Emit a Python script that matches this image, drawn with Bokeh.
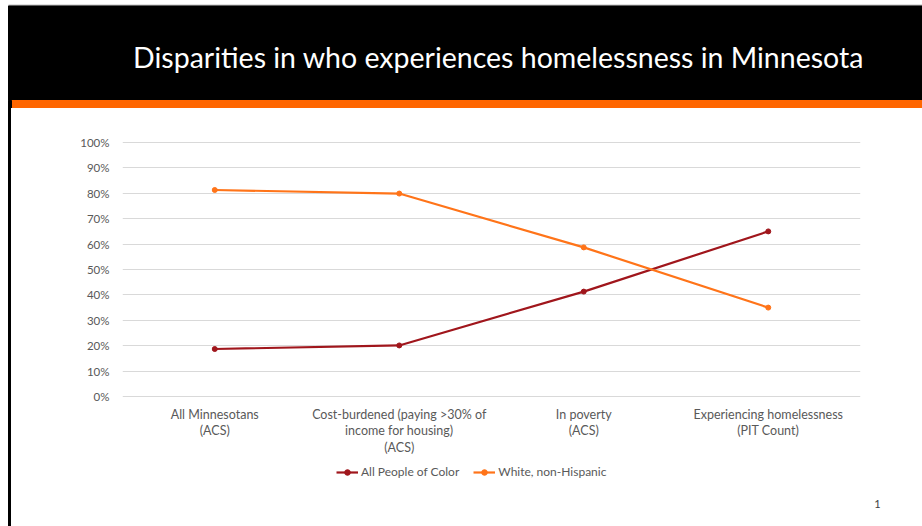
from bokeh.plotting import figure
from bokeh.layouts import column
from bokeh.models import (FactorRange, Range1d, NumeralTickFormatter, FixedTicker,
                          Legend, LegendItem, ColumnDataSource)
from bokeh.core.properties import value
from bokeh.embed import file_html
from bokeh.resources import INLINE

# ---- data ----
title_text = "Disparities in who experiences homelessness in Minnesota"
categories = [
    "All Minnesotans\n(ACS)",
    "Cost-burdened (paying >30% of\nincome for housing)\n(ACS)",
    "In poverty\n(ACS)",
    "Experiencing homelessness\n(PIT Count)",
]
people_of_color = [0.187, 0.201, 0.413, 0.650]
white_non_hispanic = [0.813, 0.799, 0.587, 0.350]
series_names = ["All People of Color", "White, non-Hispanic"]
y_ticks = [0.0, 0.1, 0.2, 0.3, 0.4, 0.5, 0.6, 0.7, 0.8, 0.9, 1.0]
page_number = "1"

FONT = "Lato"
TXT = "#595959"
RED = "#A0161C"
ORANGE = "#FF7419"

W = 922
HH = 108       # header height
PH = 355       # chart figure height
FH = 526 - HH - PH  # footer height
LEFT = 11      # white margin + black border


def bare(fig, color="white"):
    fig.axis.visible = False
    fig.grid.visible = False
    fig.outline_line_color = None
    fig.background_fill_color = color
    fig.border_fill_color = color
    return fig


# ---- header (slide decoration) ----
hdr = bare(figure(width=W, height=HH, x_range=Range1d(0, W), y_range=Range1d(HH, 0),
                  output_backend="svg", toolbar_location=None, min_border=0))
hdr.quad(left=[8], right=[W], top=[4.5], bottom=[5.5], color="#bfbfbf")
hdr.quad(left=[8], right=[W], top=[5.5], bottom=[100], color="black")
hdr.quad(left=[11], right=[W], top=[100], bottom=[HH], color="#FF6600")
hdr.quad(left=[8], right=[11], top=[100], bottom=[HH], color="black")
hdr.text(x=[498], y=[56], text=[title_text], text_color="white",
         text_font=value(FONT), text_font_size="28.5px",
         text_align="center", text_baseline="middle")

# ---- chart ----
p = figure(width=W - LEFT, height=PH, x_range=FactorRange(*categories),
           y_range=Range1d(-0.0118, 1.0118),
           output_backend="svg", toolbar_location=None,
           min_border_left=122 - LEFT, min_border_right=W - 122 - 738,
           min_border_top=31, min_border_bottom=PH - 31 - 260)
p.outline_line_color = None
p.background_fill_color = "white"
p.border_fill_color = "white"
p.xgrid.visible = False
p.ygrid.grid_line_color = "#d9d9d9"
p.ygrid.grid_line_width = 1

p.yaxis.ticker = FixedTicker(ticks=y_ticks)
p.yaxis.formatter = NumeralTickFormatter(format="0%")
for ax in (p.xaxis, p.yaxis):
    ax.axis_line_color = None
    ax.major_tick_line_color = None
    ax.minor_tick_line_color = None
    ax.major_label_text_color = TXT
    ax.major_label_text_font = FONT
p.yaxis.major_label_text_font_size = "11.5px"
p.xaxis.major_label_text_font_size = "12.5px"
p.yaxis.major_label_standoff = 7
p.xaxis.major_label_standoff = 1
p.xaxis.major_label_text_line_height = 1.1

src = ColumnDataSource(dict(x=categories, poc=people_of_color, wnh=white_non_hispanic))
p.line("x", "poc", source=src, line_color=RED, line_width=2.2)
p.scatter("x", "poc", source=src, size=5, color=RED)
p.line("x", "wnh", source=src, line_color=ORANGE, line_width=2.2)
p.scatter("x", "wnh", source=src, size=5, color=ORANGE)

# ---- footer: legend + page number ----
ft = bare(figure(width=W - LEFT, height=FH, x_range=Range1d(LEFT, W),
                 y_range=Range1d(526, 526 - FH),
                 output_backend="svg", toolbar_location=None, min_border=0))
nan = float("nan")
key_src = ColumnDataSource(dict(x=[nan], y=[nan]))  # legend keys only, nothing plotted
fl1 = ft.line("x", "y", source=key_src, line_color=RED, line_width=2.2)
fs1 = ft.scatter("x", "y", source=key_src, size=5, color=RED)
fl2 = ft.line("x", "y", source=key_src, line_color=ORANGE, line_width=2.2)
fs2 = ft.scatter("x", "y", source=key_src, size=5, color=ORANGE)
legend = Legend(items=[LegendItem(label=series_names[0], renderers=[fl1, fs1]),
                       LegendItem(label=series_names[1], renderers=[fl2, fs2])],
                orientation="horizontal", location=(336 - LEFT, 526 - 479),
                margin=0, padding=0, spacing=14,
                glyph_width=22, glyph_height=14, label_standoff=3,
                label_text_font=FONT, label_text_font_size="12px",
                label_text_color=TXT, label_height=14,
                border_line_color=None, background_fill_alpha=0)
ft.add_layout(legend, "center")
ft.text(x=[877], y=[503], text=[page_number], text_color="#404040",
        text_font=value(FONT), text_font_size="11px",
        text_align="center", text_baseline="middle")

body = column(p, column(ft, spacing=0), spacing=0, margin=(0, 0, 0, 8),
              styles={"border-left": "3px solid black"})
layout = column(hdr, body, spacing=0)
open("out.html", "w").write(file_html(layout, INLINE))
